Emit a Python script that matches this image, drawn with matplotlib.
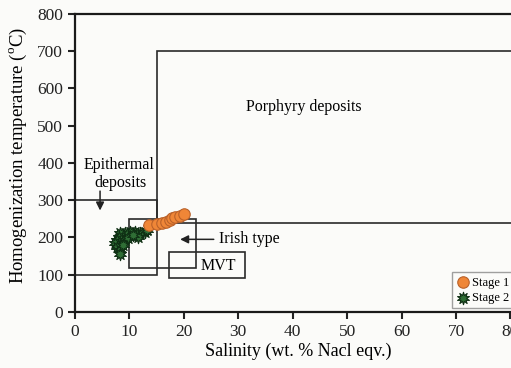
import numpy as np
import matplotlib.pyplot as plt
from matplotlib.patches import Rectangle

# fluid inclusion data (salinity wt.% NaCl eqv., Th in C)
stage1_sal = [13.6, 15.1, 15.9, 16.8, 17.5, 17.8, 18.4, 19.3, 20.0]
stage1_th = [233, 236, 240, 241, 247, 251, 256, 259, 263]
stage2_sal = [12.9, 11.9, 11.0, 10.1, 9.2, 8.3, 8.0, 7.7, 7.3, 7.7, 8.3, 8.3,
              9.2, 9.8, 8.9, 11.6, 10.7, 13.2]
stage2_th = [216, 211, 216, 216, 211, 211, 202, 193, 184, 175, 166, 157,
             193, 198, 180, 202, 207, 220]

# deposit fields: (sal_min, sal_max, th_min, th_max)
porphyry = (15, 90, 240, 700)
epithermal = (0, 15, 100, 300)
irish = (10, 22.2, 117, 250)
mvt = (17.3, 31.2, 90, 160)

xticks = [0, 10, 20, 30, 40, 50, 60, 70, 80]
yticks = [0, 100, 200, 300, 400, 500, 600, 700, 800]

plt.rcParams['font.family'] = ['Liberation Serif', 'DejaVu Serif']
plt.rcParams['mathtext.fontset'] = 'custom'
plt.rcParams['mathtext.rm'] = 'Liberation Serif'
bg = '#fbfbf9'

fig = plt.figure(figsize=(5.11, 3.68), dpi=100, facecolor=bg)
ax = fig.add_axes([0.1468, 0.1522, 0.8734, 0.8098])
ax.set_facecolor(bg)

for f in (porphyry, epithermal, irish, mvt):
    ax.add_patch(Rectangle((f[0], f[2]), f[1] - f[0], f[3] - f[2],
                           fill=False, edgecolor='#2a2a2a', lw=1.2, zorder=2))

ax.scatter(stage2_sal, stage2_th, marker=(10, 1, 0), s=80, color='#2f6e35',
           edgecolor='#0f2f14', lw=0.8, zorder=3, label='Stage 2')
ax.scatter(stage1_sal, stage1_th, marker='o', s=68, color='#ef8637',
           edgecolor='#b9612a', lw=0.8, zorder=4, label='Stage 1')

ax.text(42, 550, 'Porphyry deposits', fontsize=11.5, ha='center', va='center')
ax.text(8.0, 395, 'Epithermal', fontsize=11.5, ha='center', va='center')
ax.text(8.3, 346, 'deposits', fontsize=11.5, ha='center', va='center')
ax.annotate('', xy=(4.6, 265), xytext=(4.6, 332),
            arrowprops=dict(arrowstyle='-|>', color='#222', lw=1.1,
                            mutation_scale=12))
ax.text(26.5, 195, 'Irish type', fontsize=11.5, ha='left', va='center')
ax.annotate('', xy=(18.8, 195), xytext=(26.0, 195),
            arrowprops=dict(arrowstyle='-|>', color='#222', lw=1.1,
                            mutation_scale=12))
ax.text(26.3, 124, 'MVT', fontsize=11.5, ha='center', va='center')

ax.set_xlim(0, 82)
ax.set_ylim(0, 800)
ax.set_xticks(xticks)
ax.set_yticks(yticks)
ax.tick_params(direction='out', length=5, width=1.5, labelsize=12.5,
               colors='#222')
ax.spines['right'].set_visible(False)
for s in ('left', 'bottom', 'top'):
    ax.spines[s].set_linewidth(1.6)
    ax.spines[s].set_color('#1a1a1a')

ax.set_xlabel('Salinity (wt. % Nacl eqv.)', fontsize=13, labelpad=2)
ax.set_ylabel('Homogenization temperature ($^{\\mathrm{o}}$C)', fontsize=13.5)
ax.yaxis.set_label_coords(-0.102, 0.525)

h, l = ax.get_legend_handles_labels()
leg = ax.legend(h[::-1], l[::-1], loc='lower left',
                bbox_to_anchor=(69.3, 10), bbox_transform=ax.transData,
                fontsize=9, frameon=True, fancybox=False, borderpad=0.35,
                handletextpad=0.2, labelspacing=0.25, handlelength=1.0,
                borderaxespad=0)
leg.get_frame().set_edgecolor('#888')
leg.get_frame().set_linewidth(1.0)
leg.get_frame().set_facecolor(bg)

fig.savefig('out.png', dpi=100, facecolor=bg)
